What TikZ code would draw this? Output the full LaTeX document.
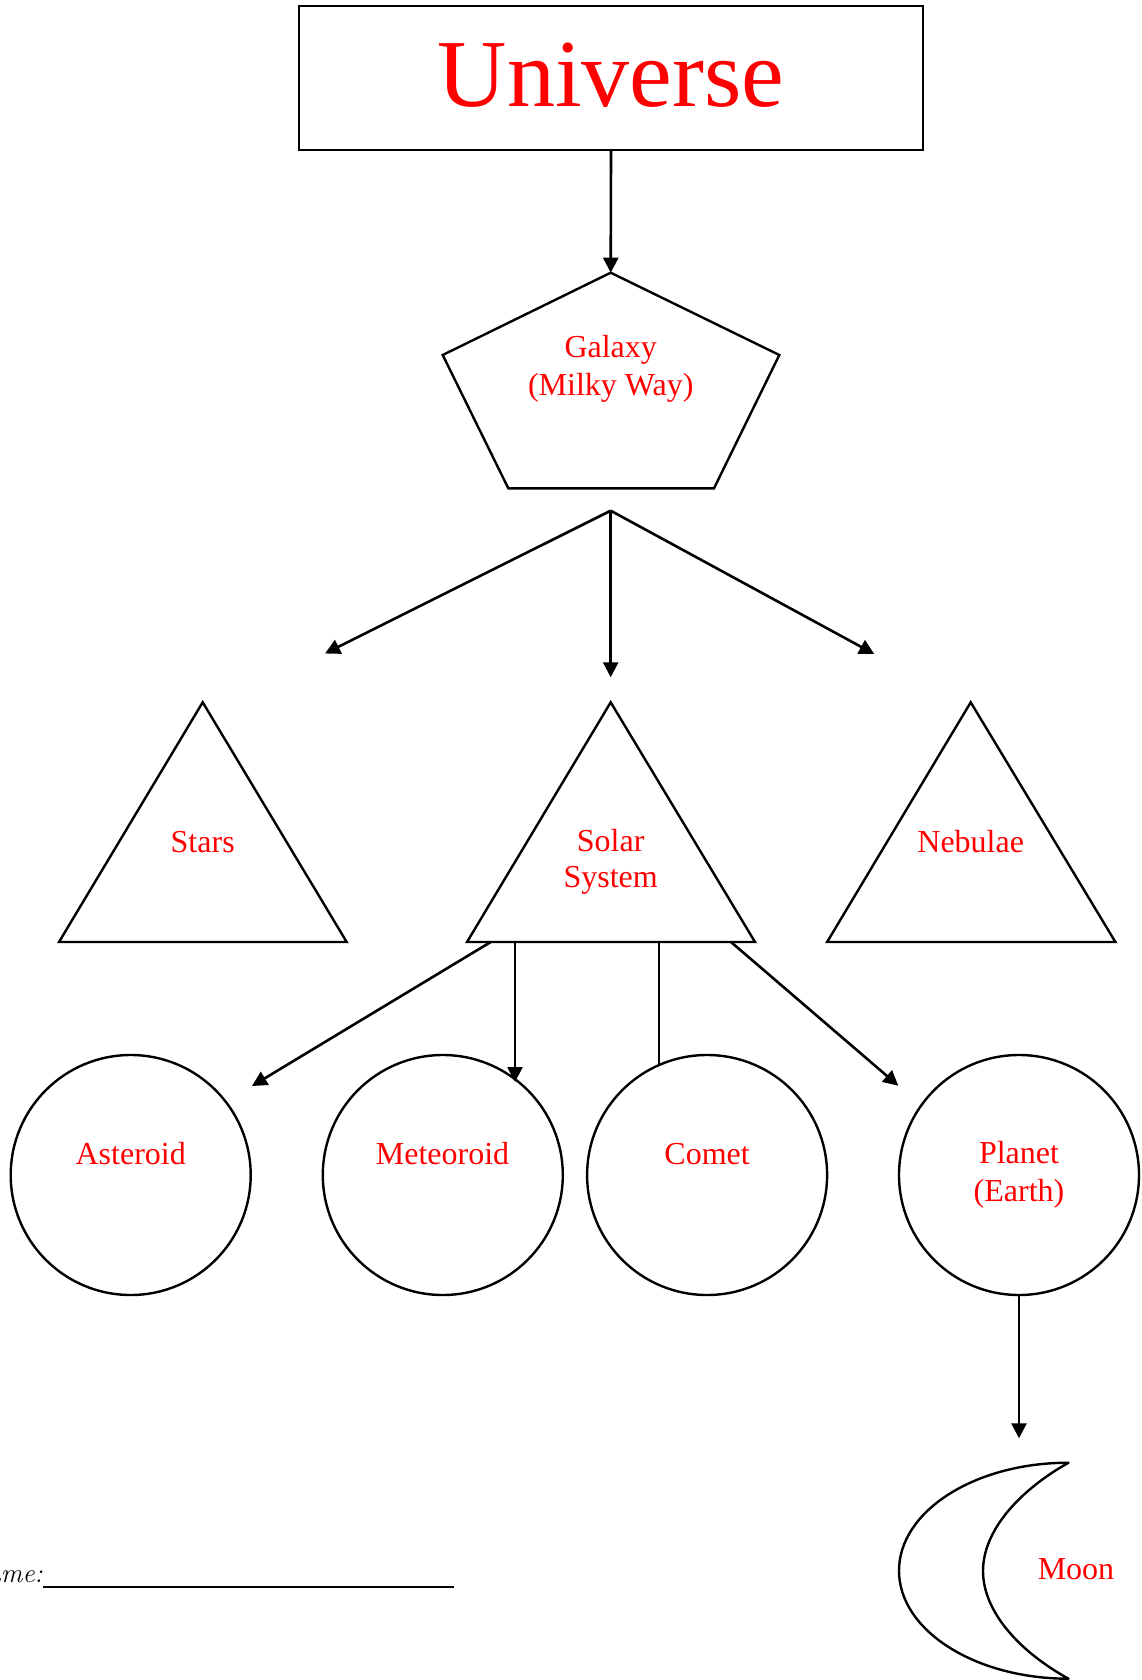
\documentclass[tikz,border=0pt]{standalone}
\usepackage{fontspec}
\newfontfamily\tnr{Liberation Serif}
\usetikzlibrary{arrows.meta}
\definecolor{lblred}{RGB}{255,0,0}
\tikzset{
  shapeline/.style={draw=black, line width=2.4pt, line join=miter},
  conn/.style={draw=black, line width=2.6pt},
  arr/.style={conn, -{Triangle[length=15pt,width=15pt]}},
  lbl/.style={text=lblred, inner sep=0pt, anchor=base, font=\tnr\fontsize{32}{38}\selectfont},
  bigl/.style={text=lblred, inner sep=0pt, anchor=base, font=\tnr\fontsize{96}{110}\selectfont},
  ball/.style={circle, draw=black, line width=2.4pt, minimum size=240pt, inner sep=0pt, outer sep=0pt},
}
\begin{document}
\begin{tikzpicture}[x=1pt,y=-1pt]
\useasboundingbox (0,0) rectangle (1141,1680);

% Universe
\node[draw=black, line width=2.4pt, minimum width=624pt, minimum height=144pt, inner sep=0pt, outer sep=0pt] (uni) at (611,78) {};
\node[bigl] (unil) at (611,106.7) {Universe};

% Galaxy pentagon
\coordinate (gT) at (610.7,272.7);
\coordinate (gUL) at (442.7,355);
\coordinate (gUR) at (779.3,355);
\coordinate (gBR) at (714,488.3);
\coordinate (gBL) at (508.3,488.3);
\draw[shapeline] (gT) -- (gUR) -- (gBR) -- (gBL) -- (gUL) -- cycle;
\node[lbl] (gal1) at (610.7,357.3) {Galaxy};
\node[lbl] (gal2) at (610.7,395.7) {(Milky Way)};

\draw[arr] (uni.south) -- (gT);

% branch from galaxy
\coordinate (gB) at (610.7,510.7);
\coordinate (eStars) at (325,653.5);
\coordinate (eSolar) at (610.7,677.3);
\coordinate (eNeb) at (874.3,654);
\draw[arr] (gB) -- (eStars);
\draw[arr] (gB) -- (eSolar);
\draw[arr] (gB) -- (eNeb);

% triangles
\coordinate (stA) at (202.7,702.3);
\coordinate (stL) at (59,942);
\coordinate (stR) at (346.7,942);
\draw[shapeline] (stA) -- (stR) -- (stL) -- cycle;
\node[lbl] (starsl) at (202.7,852.3) {Stars};

\coordinate (soA) at (610.7,702.3);
\coordinate (soL) at (467,942);
\coordinate (soR) at (755,942);
\draw[shapeline] (soA) -- (soR) -- (soL) -- cycle;
\node[lbl] (sol1) at (610.7,851.3) {Solar};
\node[lbl] (sol2) at (610.7,887.7) {System};

\coordinate (neA) at (970.7,702.3);
\coordinate (neL) at (827.1,942);
\coordinate (neR) at (1115.4,942);
\draw[shapeline] (neA) -- (neR) -- (neL) -- cycle;
\node[lbl] (nebl) at (970.7,852.3) {Nebulae};

% circles
\node[ball] (ast) at (130.7,1175) {};
\node[ball] (met) at (442.8,1175) {};
\node[ball] (com) at (707.1,1175) {};
\node[ball] (pla) at (1019,1175) {};
\node[lbl] (astl) at (130.7,1164) {Asteroid};
\node[lbl] (metl) at (442.5,1164.3) {Meteoroid};
\node[lbl] (coml) at (707.1,1164) {Comet};
\node[lbl] (pla1) at (1019,1163.3) {Planet};
\node[lbl] (pla2) at (1019,1201.7) {(Earth)};

% connectors from solar system
\coordinate (s1) at (490.7,942);
\coordinate (s2) at (515,942);
\coordinate (s3) at (659,942);
\coordinate (s4) at (731,942);
\coordinate (eAst) at (252,1086);
\coordinate (eMet) at (515,1082);
\coordinate (eCom) at (659,1065);
\coordinate (ePla) at (898.3,1085.7);
\draw[arr] (s1) -- (eAst);
\draw[arr] (s2) -- (eMet);
\draw[conn] (s3) -- (eCom);
\draw[arr] (s4) -- (ePla);

% planet to moon
\coordinate (eMoon) at (1019,1438.3);
\draw[arr] (pla.south) -- (eMoon);

% moon
\coordinate (mT) at (1068.5,1462.7);
\coordinate (mB) at (1067.5,1678.7);
\draw[shapeline, line join=round]
  (mT) arc[start angle=270, end angle=90, x radius=169.5, y radius=108]
  .. controls (1020,1652) and (983,1612) .. (983,1571)
  .. controls (983,1530) and (1020,1490) .. (mT) -- cycle;
\node[lbl] (moonl) at (1076,1579.3) {Moon};

% name line
\node[anchor=base east, inner sep=0pt, font=\itshape\fontsize{27}{30}\selectfont] (namel) at (43,1582) {Name:};
\coordinate (nl1) at (43,1586.7);
\coordinate (nl2) at (454,1586.7);
\draw[line width=2.4pt] (nl1) -- (nl2);
\end{tikzpicture}
\end{document}
